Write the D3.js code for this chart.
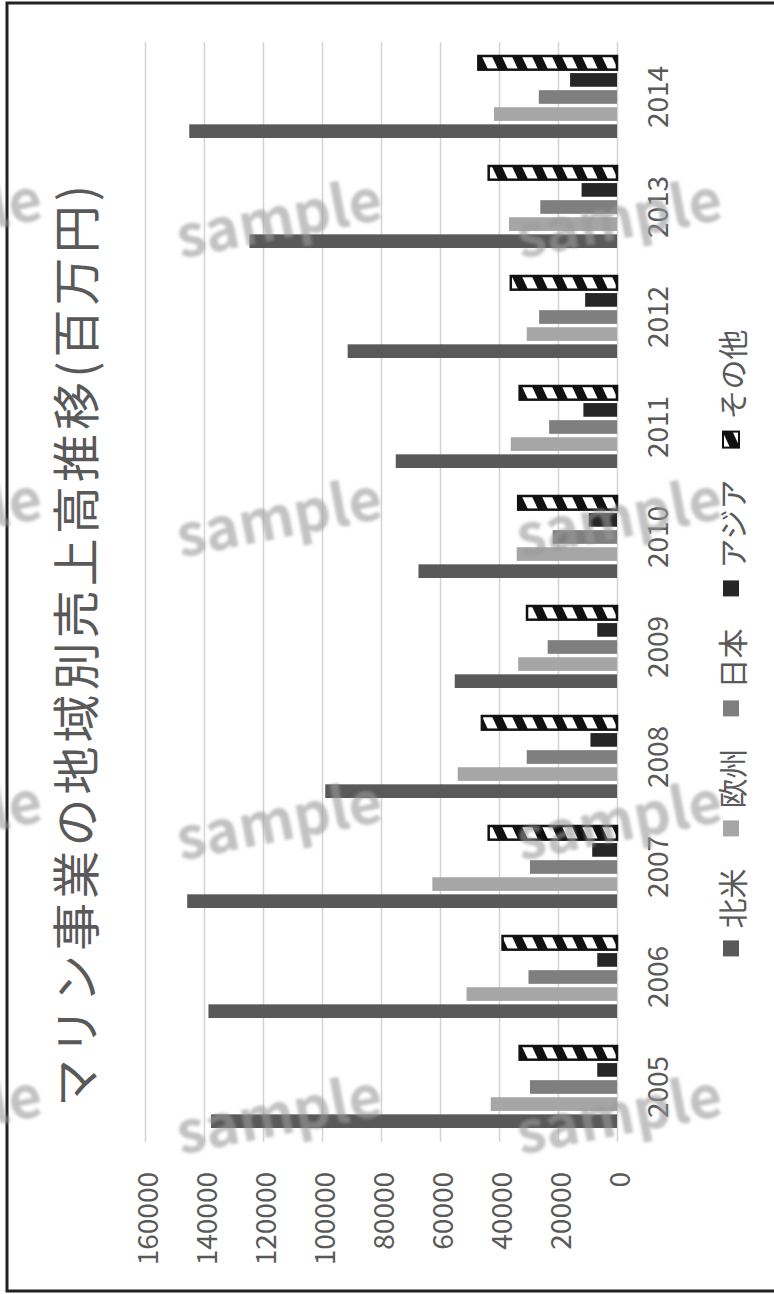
<!DOCTYPE html>
<html>
<head>
<meta charset="utf-8">
<script src="https://cdn.jsdelivr.net/npm/d3@7"></script>
<style>
body { margin: 0; background: #fff; }
text { font-family: "Noto Sans CJK JP", "Noto Sans", sans-serif; }
</style>
</head>
<body>
<script>
/* chart values (百万円) */
var years = ["2005", "2006", "2007", "2008", "2009", "2010", "2011", "2012", "2013", "2014"]
var seriesNames = ["北米", "欧州", "日本", "アジア", "その他"]
var northAmerica = [137600, 138500, 145700, 98900, 55000, 67300, 75000, 91300, 124600, 145000]
var europe = [42800, 51000, 62600, 54000, 33500, 34000, 36000, 30600, 36600, 41700]
var japan = [29500, 30000, 29500, 30600, 23500, 21800, 23000, 26400, 26000, 26500]
var asia = [6700, 6700, 8400, 9000, 6700, 9600, 11400, 10800, 12000, 15900]
var other = [33000, 38800, 43500, 45800, 30500, 33500, 33000, 36000, 43500, 47000]
var valueTicks = [0, 20000, 40000, 60000, 80000, 100000, 120000, 140000, 160000]
var title = "マリン事業の地域別売上高推移(百万円)"

var seriesValues = [northAmerica, europe, japan, asia, other]
var seriesColors = ["#595959", "#a6a6a6", "#7f7f7f", "#262626", "url(#hatch)"]

var W = 774, H = 1294

var svg = d3.select("body").append("svg")
    .attr("width", W)
    .attr("height", H)

var defs = svg.append("defs")

/* black and white diagonal hatch for その他 */
var pat = defs.append("pattern")
    .attr("id", "hatch")
    .attr("patternUnits", "userSpaceOnUse")
    .attr("width", 20)
    .attr("height", 20)
    .attr("patternTransform", "skewY(-25)")
pat.append("rect").attr("width", 20).attr("height", 20).attr("fill", "#111")
pat.append("rect").attr("width", 20).attr("height", 10).attr("fill", "#fff")

defs.append("filter").attr("id", "soft")
    .append("feGaussianBlur").attr("stdDeviation", 1.6)

/* the whole chart is laid on its side: draw it upright, then turn it */
var chart = svg.append("g")
    .attr("transform", "translate(0," + H + ") rotate(-90)")

chart.append("rect")
    .attr("x", 3).attr("y", 7)
    .attr("width", 1288).attr("height", 820)
    .attr("fill", "none")
    .attr("stroke", "#222")
    .attr("stroke-width", 3)

chart.append("text")
    .attr("x", 648)
    .attr("y", 73)
    .attr("text-anchor", "middle")
    .attr("dominant-baseline", "central")
    .attr("font-size", 48)
    .attr("textLength", 922)
    .attr("lengthAdjust", "spacing")
    .attr("fill", "#595959")
    .text(title)

var x0 = d3.scaleBand()
    .domain(years)
    .range([152, 1252])
    .paddingInner(0.2545)
    .paddingOuter(0.12725)

var x1 = d3.scaleBand()
    .domain(seriesNames)
    .range([0, x0.bandwidth()])
    .paddingInner(0.2)

var y = d3.scaleLinear()
    .domain([0, 160000])
    .range([617, 145])

var color = d3.scaleOrdinal().domain(seriesNames).range(seriesColors)

/* value axis with gridlines */
var yAxis = d3.axisLeft(y)
    .tickValues(valueTicks)
    .tickSize(-1100)
    .tickPadding(30)
    .tickFormat(d3.format("d"))

var gy = chart.append("g")
    .attr("transform", "translate(152,0)")
    .call(yAxis)
gy.select(".domain").remove()
gy.selectAll(".tick line").attr("stroke", "#d4d4d4").attr("stroke-width", 1.5)
gy.selectAll(".tick text")
    .attr("font-size", 28)
    .attr("fill", "#595959")
    .attr("font-family", "Noto Sans CJK JP")
    .attr("dy", null)
    .attr("dominant-baseline", "central")

/* category axis */
var xAxis = d3.axisBottom(x0).tickSize(0).tickPadding(31)
var gx = chart.append("g")
    .attr("transform", "translate(0,617)")
    .call(xAxis)
gx.select(".domain").remove()
gx.selectAll(".tick text")
    .attr("font-size", 28)
    .attr("fill", "#595959")
    .attr("font-family", "Noto Sans CJK JP")

/* bars */
var table = years.map(function(yr, i) {
    return {
        year: yr,
        values: seriesNames.map(function(s, j) {
            return { key: s, value: seriesValues[j][i] }
        })
    }
})

var groups = chart.append("g").selectAll("g")
    .data(table)
    .enter()
    .append("g")
    .attr("transform", function(d) { return "translate(" + x0(d.year) + ",0)" })

groups.selectAll("rect")
    .data(function(d) { return d.values })
    .enter()
    .append("rect")
    .attr("x", function(d) { return x1(d.key) })
    .attr("y", function(d) { return y(d.value) })
    .attr("width", x1.bandwidth())
    .attr("height", function(d) { return y(0) - y(d.value) })
    .attr("fill", function(d) { return color(d.key) })
    .attr("stroke", function(d) { return d.key == "その他" ? "#111" : "none" })
    .attr("stroke-width", 2.5)

/* legend along the bottom */
var legend = chart.append("g")
var items = legend.selectAll("g")
    .data(seriesNames)
    .enter()
    .append("g")
items.append("rect")
    .attr("y", 731 - 8)
    .attr("width", 16)
    .attr("height", 16)
    .attr("fill", function(d) { return color(d) })
    .attr("stroke", function(d) { return d == "その他" ? "#111" : "none" })
    .attr("stroke-width", 2)
items.append("text")
    .attr("x", 28)
    .attr("y", 731)
    .attr("dominant-baseline", "central")
    .attr("font-size", 30)
    .attr("fill", "#595959")
    .text(function(d) { return d })

var offsets = [], pos = 0
items.each(function() {
    offsets.push(pos)
    pos += 28 + d3.select(this).select("text").node().getComputedTextLength() + 32
})
var total = pos - 32
var start = 651 - total / 2
items.attr("transform", function(d, i) { return "translate(" + (start + offsets[i]) + ",0)" })

/* faint "sample" watermark, in page space */
var wmCols = [-62, 278, 618]
var wmRows = [214, 513, 816, 1110]
var marks = []
wmRows.forEach(function(r) { wmCols.forEach(function(c) { marks.push([c, r]) }) })
svg.append("g")
    .attr("filter", "url(#soft)")
    .selectAll("text")
    .data(marks)
    .enter()
    .append("text")
    .attr("transform", function(d) { return "translate(" + d[0] + "," + d[1] + ") rotate(-11)" })
    .attr("text-anchor", "middle")
    .attr("dominant-baseline", "central")
    .attr("font-family", "Open Sans")
    .attr("font-weight", "bold")
    .attr("font-size", 58)
    .attr("fill", "#9a9a9a")
    .attr("opacity", 0.6)
    .text("sample")
</script>
</body>
</html>
